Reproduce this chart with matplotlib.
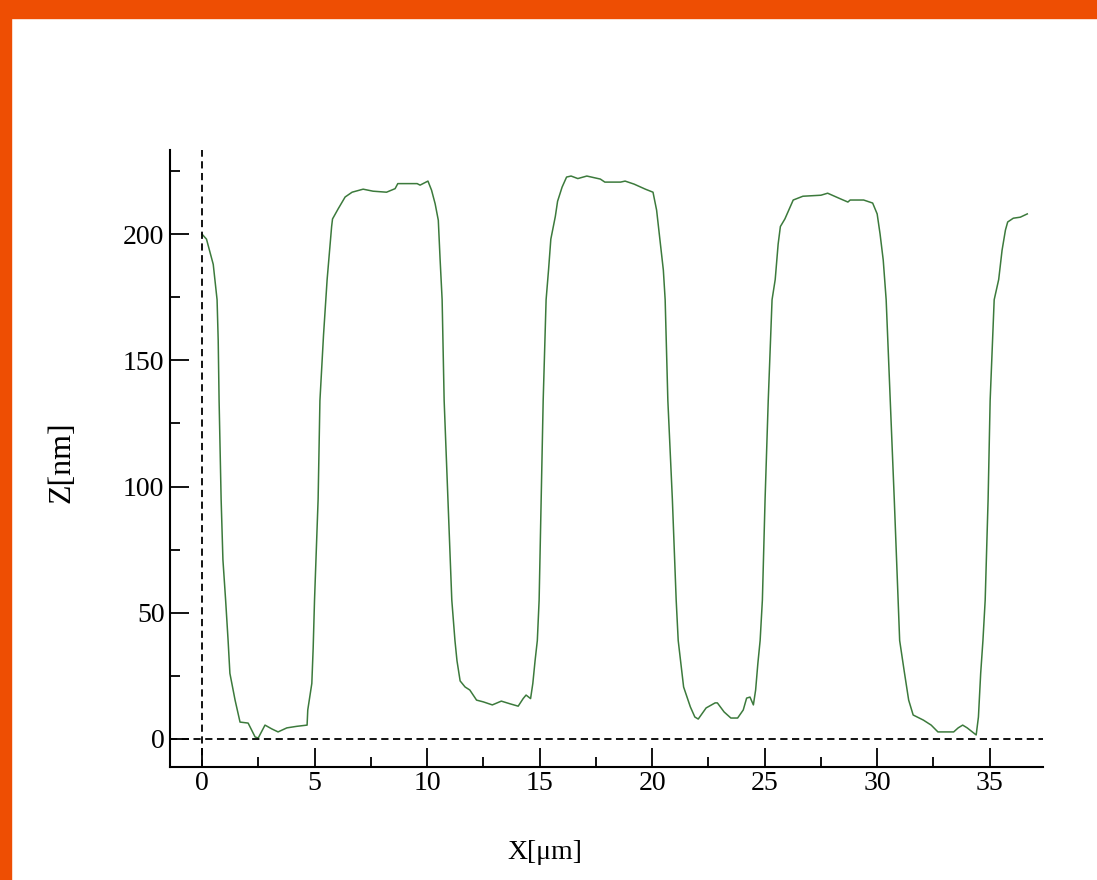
import matplotlib.pyplot as plt
from matplotlib.patches import Rectangle
from matplotlib.ticker import MultipleLocator

# profile
x_um = [0.0, 0.2, 0.5, 0.67, 0.72, 0.76, 0.85, 0.93, 1.05, 1.16, 1.24, 1.47, 1.69, 2.05,
        2.36, 2.5, 2.8, 3.1, 3.38, 3.77, 4.2, 4.67, 4.7, 4.88, 4.94, 5.0, 5.16, 5.24, 5.4,
        5.56, 5.76, 5.8, 6.05, 6.36, 6.67, 7.16, 7.6, 8.2, 8.58, 8.7, 9.56, 9.69, 10.04,
        10.2, 10.36, 10.5, 10.58, 10.67, 10.76, 10.93, 11.1, 11.24, 11.33, 11.47, 11.69,
        11.9, 12.2, 12.5, 12.9, 13.3, 13.7, 14.05, 14.27, 14.4, 14.6, 14.7, 14.8, 14.9,
        14.98, 15.07, 15.16, 15.29, 15.4, 15.5, 15.7, 15.8, 16.0, 16.2, 16.4, 16.7, 17.1,
        17.7, 17.9, 18.6, 18.8, 19.2, 19.7, 20.04, 20.2, 20.3, 20.4, 20.5, 20.58, 20.7,
        20.9, 21.07, 21.16, 21.4, 21.7, 21.9, 22.05, 22.4, 22.8, 22.9, 23.2, 23.5, 23.8,
        24.05, 24.2, 24.35, 24.5, 24.6, 24.7, 24.8, 24.9, 25.02, 25.16, 25.33, 25.47, 25.6,
        25.7, 25.9, 26.13, 26.27, 26.7, 27.5, 27.8, 28.0, 28.36, 28.7, 28.8, 29.4, 29.8,
        30.0, 30.13, 30.27, 30.4, 30.58, 30.76, 30.93, 31.0, 31.2, 31.4, 31.6, 32.05,
        32.4, 32.7, 33.4, 33.6, 33.8, 34.0, 34.4, 34.5, 34.6, 34.7, 34.8, 34.93, 35.02,
        35.2, 35.4, 35.55, 35.7, 35.8, 36.05, 36.36, 36.67]
z_nm = [200, 198, 188, 174, 158, 134, 95, 71, 55, 39, 26, 15.4, 6.7, 6.3,
        0.8, 0.4, 5.5, 4.0, 2.8, 4.4, 5.0, 5.5, 11.5, 22, 36, 55, 95, 134, 160,
        182, 203, 206, 210, 214.7, 216.6, 217.8, 217, 216.6, 218, 220, 220, 219.4, 221,
        217.4, 212, 205.5, 190, 174, 134, 95, 55, 39, 31, 23, 20.6,
        19.4, 15.4, 14.7, 13.5, 15, 13.9, 13, 16, 17.4, 16, 22, 31, 39,
        55, 95, 134, 174, 186, 198, 207, 213, 218.6, 222.6, 223, 222, 223,
        221.8, 220.6, 220.6, 221, 219.8, 217.8, 216.6, 209.5, 201.6, 193.6, 185.7, 174, 134,
        95, 55, 39, 20.6, 12.7, 8.7, 7.9, 12.3, 14.3, 14.3, 10.7, 8.3, 8.3,
        11.5, 16.2, 16.6, 13.5, 19.4, 30, 39, 55, 95, 134, 174, 182, 196,
        203, 206, 210.7, 213.5, 215, 215.4, 216.2, 215.4, 214, 212.7, 213.5, 213.5, 212.3,
        208, 200, 189.7, 174, 134, 95, 55, 39, 27, 15.4, 9.5, 7.5,
        5.5, 2.8, 2.8, 4.4, 5.5, 4.4, 1.6, 8.7, 26, 39, 55, 95, 134,
        174, 182, 193.6, 201.6, 204.8, 206.3, 206.7, 208]

x_ticks = [0, 5, 10, 15, 20, 25, 30, 35]
z_ticks = [0, 50, 100, 150, 200]

serif = ['Liberation Serif', 'DejaVu Serif']

fig = plt.figure(figsize=(10.97, 8.80), dpi=100)
ax = fig.add_axes([0.155, 0.1284, 0.796, 0.7011])

ax.plot(x_um, z_nm, color='#3c7a3c', lw=1.1)
ax.axhline(0, color='black', lw=1.3, ls=(0, (4, 2.5)))
ax.axvline(0, color='black', lw=1.3, ls=(0, (4, 2.5)))

ax.set_xlim(-1.42, 37.38)
ax.set_ylim(-11.1, 233.3)
ax.set_xticks(x_ticks)
ax.set_yticks(z_ticks)
ax.xaxis.set_minor_locator(MultipleLocator(2.5))
ax.yaxis.set_minor_locator(MultipleLocator(25))
ax.tick_params(which='both', direction='in', width=1.3, labelsize=20)
ax.tick_params(axis='x', pad=3)
ax.tick_params(axis='y', pad=4)
ax.tick_params(which='major', length=14)
ax.tick_params(which='minor', length=7)
for lab in ax.get_xticklabels() + ax.get_yticklabels():
    lab.set_family(serif)

for side in ['top', 'right']:
    ax.spines[side].set_visible(False)
for side in ['left', 'bottom']:
    ax.spines[side].set_linewidth(1.5)

fig.text(62 / 1097, 1 - 462 / 880, 'Z[nm]', rotation=90, ha='center', va='center',
         fontsize=23, family=serif)
fig.text(545 / 1097, 1 - 852 / 880, 'X[\u03bcm]', ha='center', va='center',
         fontsize=20, family=serif)

# orange frame on top and left
fig.patches.append(Rectangle((0, 1 - 18 / 880), 1, 18 / 880, transform=fig.transFigure,
                             color='#ee4e03', zorder=10))
fig.patches.append(Rectangle((0, 0), 11 / 1097, 1, transform=fig.transFigure,
                             color='#ee4e03', zorder=10))

fig.savefig('out.png', dpi=100)
